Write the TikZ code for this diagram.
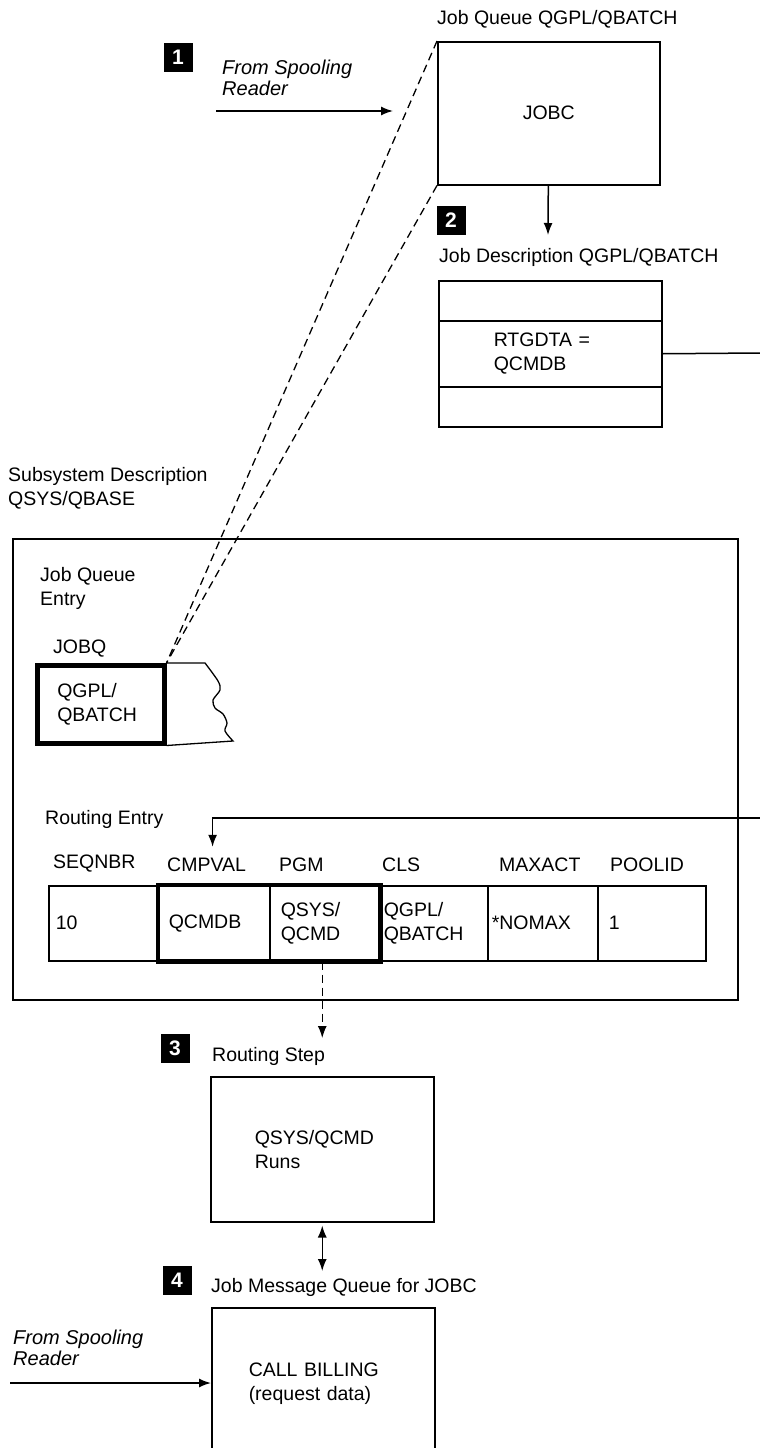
\documentclass[tikz,border=0pt]{standalone}
\usepackage{fontspec}
\setmainfont{Liberation Sans}
\usetikzlibrary{arrows.meta,positioning}
\tikzset{
  >={Latex[length=12pt,width=9pt]},
  every node/.style={font=\fontsize{19.5}{24}\selectfont,inner sep=0pt},
  obj/.style={draw,line width=1.5pt,anchor=north west},
  numbox/.style={fill=black,text=white,font=\fontsize{21}{21}\selectfont\bfseries,minimum width=29pt,minimum height=29pt},
  lbl/.style={anchor=base west},
  multi/.style={anchor=north west,align=left},
  spool/.style={multi,font=\fontsize{20}{21}\selectfont\itshape},
  cell/.style 2 args={obj,minimum height=75pt,inner xsep=#2,text width=#1,align=left},
  hdr/.style={anchor=south west},
  selected/.style={draw,line width=4.5pt},
  arrow/.style={->,line width=1.5pt},
  dblarrow/.style={<->,line width=1.5pt},
  dashlink/.style={line width=1.3pt,dash pattern=on 8pt off 5pt},
  dasharrow/.style={->,dashlink}
}
\begin{document}
\begin{tikzpicture}[x=1pt,y=-1pt]
  \useasboundingbox (0,0) rectangle (760,1448);
  \clip (0,0) rectangle (760,1448);

  % job queue
  \node[obj,minimum width=222pt,minimum height=143pt] (jobc) at (437,41) {JOBC};
  \node[lbl] (jobqlbl) at (437,24) {Job Queue QGPL/QBATCH};
  \node[numbox] (n1) at (178,57) {1};
  \node[spool] (spool1lbl) at (222,60) {From Spooling\\Reader};
  \coordinate (spool1) at (216,111);
  \coordinate (spool1end) at (393,111);
  \draw[arrow] (spool1) -- (spool1end);

  % job description
  \node[numbox] (n2) at (451,220) {2};
  \coordinate (jdin) at (548,235);
  \draw[arrow] (jobc) -- (jdin);
  \node[lbl] (jdlbl) at (439,262) {Job Description QGPL/QBATCH};
  \node[obj,minimum width=223pt,minimum height=40pt] (jdtop) at (438,280) {};
  \node[obj,minimum height=66pt,inner xsep=55pt,text width=113pt,align=left] (jdmid) at (438,320) {RTGDTA =\\QCMDB};
  \node[obj,minimum width=223pt,minimum height=40pt] (jdbot) at (438,386) {};
  \coordinate (rtgout) at (760,353);
  \draw[line width=1.5pt] (jdmid.east) -- (rtgout);

  % subsystem description
  \node[multi] (ssdlbl) at (8,467) {Subsystem Description\\QSYS/QBASE};
  \node[obj,minimum width=725pt,minimum height=461pt] (ssd) at (12,538) {};
  \node[multi] (jqelbl) at (40,567) {Job Queue\\Entry};
  \node[lbl] (jobqhdr) at (53,653) {JOBQ};
  \node[obj,selected,minimum height=78pt,inner xsep=20pt,text width=87pt,align=left] (jobq) at (35,663) {QGPL/\\QBATCH};
  \draw[line width=1.3pt] (jobq.north east) -- (205,663) -- plot[smooth] coordinates {(205,663) (218,681) (220,690) (213,700) (215,708) (223,714) (227,723) (225,731) (233,741)} -- (jobq.south east);
  \draw[dashlink] (jobc.north west) -- (jobq.north east);
  \draw[dashlink] (jobc.south west) -- (jobq.north east);

  % routing entry
  \node[lbl] (relbl) at (45,824) {Routing Entry};
  \node[cell={96pt}{7pt}] (seq) at (48,885) {10};
  \node[cell={91pt}{10pt}] (cmp) at (158,885) {QCMDB};
  \node[cell={88pt}{11pt}] (pgm) at (269,885) {QSYS/\\QCMD};
  \node[cell={100pt}{4pt}] (cls) at (379,885) {QGPL/\\QBATCH};
  \node[cell={102pt}{4pt}] (maxact) at (487,885) {*NOMAX};
  \node[cell={86pt}{11pt}] (pool) at (597,885) {1};
  \draw[selected] (cmp.north west) rectangle (pgm.south east);
  \node[hdr,above right=13pt and 5pt of seq.north west] (hseq) {SEQNBR};
  \node[hdr,above right=13pt and 9pt of cmp.north west] (hcmp) {CMPVAL};
  \node[hdr,above right=13pt and 10pt of pgm.north west] (hpgm) {PGM};
  \node[hdr,above right=13pt and 3pt of cls.north west] (hcls) {CLS};
  \node[hdr,above right=13pt and 12pt of maxact.north west] (hmax) {MAXACT};
  \node[hdr,above right=13pt and 13pt of pool.north west] (hpool) {POOLID};
  \coordinate (rtgin) at (760,818);
  \draw[arrow] (rtgin) -| ([xshift=6pt,yshift=11pt]hcmp.north);

  % routing step
  \node[numbox] (n3) at (175,1048) {3};
  \node[lbl] (rslbl) at (212,1061) {Routing Step};
  \node[obj,minimum height=145pt,inner xsep=44pt,text width=135pt,align=left] (rstep) at (210,1076) {QSYS/QCMD\\Runs};
  \draw[dasharrow] (pgm.south -| rstep.north) -- ([yshift=38pt]rstep.north);

  % job message queue
  \node[numbox] (n4) at (177,1280) {4};
  \node[lbl] (mqlbl) at (211,1292) {Job Message Queue for JOBC};
  \node[obj,minimum height=152pt,inner xsep=37pt,text width=149pt,align=left] (msgq) at (211,1307) {CALL BILLING\\(request data)};
  \draw[dblarrow,shorten <=3pt,shorten >=36pt] (rstep.south) -- (rstep.south |- msgq.north);
  \node[spool] (spool2lbl) at (13,1330) {From Spooling\\Reader};
  \coordinate (spool2) at (10,1383);
  \draw[arrow] (spool2) -- (spool2 -| msgq.west);
\end{tikzpicture}
\end{document}
